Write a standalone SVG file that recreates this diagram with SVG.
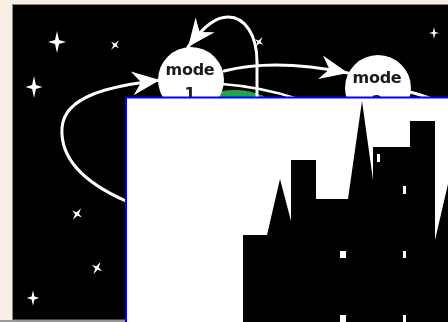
<svg xmlns="http://www.w3.org/2000/svg" width="448" height="322" viewBox="0 0 448 322">
  <defs>
    <style>
      .sky { fill: #000; stroke: #8a8a8a; stroke-width: 1; }
      .node circle { fill: #fff; }
      .node text { font-family: "DejaVu Sans", "Liberation Sans", sans-serif; font-weight: bold; font-size: 16px; fill: #1a1a1a; text-anchor: middle; letter-spacing: -0.3px; }
      .link { fill: none; stroke: #fff; stroke-width: 3; stroke-linecap: round; }
      .orbit { fill: none; stroke: #fff; stroke-width: 2.5; }
      .star { fill: #fff; }
      .city { fill: #000; }
      .win { fill: #fff; }
    </style>
    <filter id="glow" x="-50%" y="-50%" width="200%" height="200%">
      <feGaussianBlur stdDeviation="0.6"/>
    </filter>
    <path id="sparkle" d="M0,-11 L2,-2 L9,0 L2,2 L0,11 L-2,2 L-9,0 L-2,-2 Z"/>
    <marker id="head" markerUnits="userSpaceOnUse" markerWidth="32" markerHeight="28" viewBox="-30 -14 32 28" refX="0" refY="0" orient="auto">
      <path d="M0,0 L-28,-12 L-19,0 L-28,12 Z" fill="#fff"/>
    </marker>
  </defs>

  <!-- page -->
  <rect x="0" y="0" width="448" height="322" fill="#f7eee4"/>
  <rect x="0" y="320" width="448" height="2" fill="#9a9a9a"/>
  <rect class="sky" x="12.5" y="4.5" width="440" height="315.5"/>

  <!-- stars -->
  <g id="stars" class="star" filter="url(#glow)">
    <use href="#sparkle" transform="translate(57,42)"/>
    <use href="#sparkle" transform="translate(34,87) scale(0.95,1)"/>
    <use href="#sparkle" transform="translate(115,45) rotate(40) scale(0.55)"/>
    <use href="#sparkle" transform="translate(77,214) rotate(35) scale(0.65)"/>
    <use href="#sparkle" transform="translate(97,268) rotate(30) scale(0.65)"/>
    <use href="#sparkle" transform="translate(33,298) scale(0.7)"/>
    <use href="#sparkle" transform="translate(434,33) scale(0.55)"/>
    <use href="#sparkle" transform="translate(259,42) rotate(35) scale(0.55)"/>
  </g>

  <!-- planet -->
  <g id="planet">
    <circle cx="235" cy="160" r="70" fill="#1ea64c"/>
    <path class="orbit" d="M222,84 Q262,87 298,99"/>
  </g>

  <!-- connectors -->
  <g id="connectors">
    <path class="link" d="M126,201 C85,183 60,160 62,128 C64,96 110,86 160,80" marker-end="url(#head)"/>
    <path class="link" d="M257,97 L257,62 C257,35 245,17 228,17 C216,17 205,25 188,47" marker-end="url(#head)"/>
    <path class="link" d="M224,71 Q275,58 348,73" marker-end="url(#head)"/>
    <path class="link" d="M405,91 Q420,94 440,102"/>
  </g>

  <!-- nodes -->
  <g id="mode1" class="node">
    <circle cx="191" cy="80" r="33"/>
    <text x="190" y="75">mode</text>
    <text x="190" y="99">1</text>
  </g>
  <g id="mode2" class="node">
    <circle cx="378" cy="88" r="33"/>
    <text x="377" y="83">mode</text>
    <text x="377" y="107">2</text>
  </g>

  <!-- inset panel with skyline -->
  <g id="inset">
    <rect x="126" y="97.5" width="340" height="240" fill="#fff" stroke="#0000ff" stroke-width="2"/>
    <polygon class="city" points="243,322 243,235 267,235 280,179 291,221 291,160 316,160 316,199 348,199 362,101 373,180 373,147 410,147 410,121 435,121 435,240 448,184 448,322"/>
    <rect class="win" x="340" y="251" width="6" height="7"/>
    <rect class="win" x="340" y="315" width="6" height="7"/>
    <rect class="win" x="377" y="154" width="3" height="8"/>
    <rect class="win" x="403" y="186" width="3" height="8"/>
    <rect class="win" x="403" y="251" width="3" height="7"/>
    <rect class="win" x="403" y="315" width="3" height="7"/>
  </g>
</svg>
